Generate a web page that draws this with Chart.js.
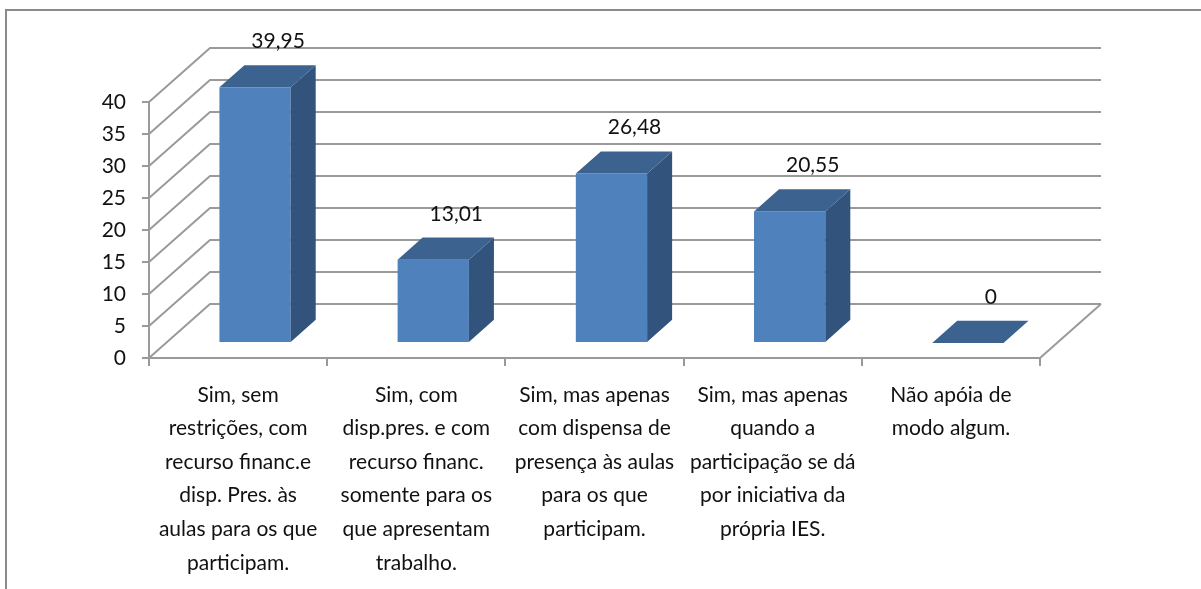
<!DOCTYPE html>
<html>
<head>
<meta charset="utf-8">
<script src="https://cdn.jsdelivr.net/npm/chart.js@4/dist/chart.umd.min.js"></script>
<style>
  html, body { margin: 0; padding: 0; background: #fff; }
  #wrap { width: 1201px; height: 589px; }
</style>
</head>
<body>
<div id="wrap"><canvas id="chart" width="1201" height="589"></canvas></div>
<script>
// categories, one array of lines each (same wrapping as the original)
const categories = [
  ["Sim, sem", "restrições, com", "recurso financ.e", "disp. Pres. às", "aulas para os que", "participam."],
  ["Sim, com", "disp.pres. e com", "recurso financ.", "somente para os", "que apresentam", "trabalho."],
  ["Sim, mas apenas", "com dispensa de", "presença às aulas", "para os que", "participam."],
  ["Sim, mas apenas", "quando a", "participação se dá", "por iniciativa da", "própria IES."],
  ["Não apóia de", "modo algum."]
];
const values = [39.95, 13.01, 26.48, 20.55, 0];
const yTicks = [0, 5, 10, 15, 20, 25, 30, 35, 40];

// 3D look: depth of the floor and where the bars sit in it
const DEPTH_X = 61, DEPTH_Y = -54;
const BAR_FRONT = 0.278, BAR_DEPTH = 0.41;
const GRID = "#9a9a9a";
const FONT = "Lato, 'Open Sans', sans-serif";

function fmt(v) {
  return Number.isInteger(v) ? String(v) : v.toFixed(2).replace(".", ",");
}

const frame3d = {
  id: "frame3d",
  beforeDraw(chart) {
    const ctx = chart.ctx;
    ctx.save();
    ctx.strokeStyle = "#8a8a8a";
    ctx.lineWidth = 2;
    ctx.beginPath();
    ctx.moveTo(6, 589);
    ctx.lineTo(6, 10);
    ctx.lineTo(1201, 10);
    ctx.stroke();
    ctx.restore();
  },
  beforeDatasetsDraw(chart) {
    const { ctx, chartArea: a, scales: { y } } = chart;
    ctx.save();
    ctx.strokeStyle = GRID;
    ctx.lineWidth = 2;
    yTicks.forEach(v => {
      const yf = y.getPixelForValue(v);
      ctx.beginPath();
      ctx.moveTo(a.left, yf);
      ctx.lineTo(a.left + DEPTH_X, yf + DEPTH_Y);
      ctx.lineTo(a.right + DEPTH_X, yf + DEPTH_Y);
      ctx.stroke();
    });
    // right edge of the floor
    ctx.beginPath();
    ctx.moveTo(a.right, a.bottom);
    ctx.lineTo(a.right + DEPTH_X, a.bottom + DEPTH_Y);
    ctx.stroke();
    ctx.restore();
  },
  afterDatasetsDraw(chart) {
    const ctx = chart.ctx;
    const meta = chart.getDatasetMeta(0);
    const fx = DEPTH_X * BAR_FRONT, fy = DEPTH_Y * BAR_FRONT;
    const dx = DEPTH_X * BAR_DEPTH, dy = DEPTH_Y * BAR_DEPTH;
    ctx.save();
    meta.data.forEach((bar, i) => {
      const w = bar.width;
      const x0 = bar.x - w / 2 + fx, x1 = bar.x + w / 2 + fx;
      const top = bar.y + fy, bottom = bar.base + fy;
      if (bottom - top > 0.5) {
        ctx.fillStyle = "#4f81bd";
        ctx.fillRect(x0, top, x1 - x0, bottom - top);
        ctx.fillStyle = "#32537c";
        ctx.beginPath();
        ctx.moveTo(x1, top);
        ctx.lineTo(x1 + dx, top + dy);
        ctx.lineTo(x1 + dx, bottom + dy);
        ctx.lineTo(x1, bottom);
        ctx.closePath();
        ctx.fill();
      }
      ctx.fillStyle = "#3c628f";
      ctx.beginPath();
      ctx.moveTo(x0, top);
      ctx.lineTo(x1, top);
      ctx.lineTo(x1 + dx, top + dy);
      ctx.lineTo(x0 + dx, top + dy);
      ctx.closePath();
      ctx.fill();

      ctx.fillStyle = "#111";
      ctx.font = "21px " + FONT;
      ctx.textAlign = "center";
      ctx.textBaseline = "middle";
      ctx.fillText(fmt(values[i]), bar.x + 40, bar.y - 61);
    });
    ctx.restore();
  }
};

new Chart(document.getElementById("chart"), {
  type: "bar",
  data: {
    labels: categories,
    datasets: [{
      data: values,
      backgroundColor: "rgba(0,0,0,0)",
      borderWidth: 0,
      categoryPercentage: 1,
      barPercentage: 0.4
    }]
  },
  options: {
    responsive: false,
    animation: false,
    devicePixelRatio: 1,
    layout: { padding: { top: 102, right: 161, left: 0, bottom: 0 } },
    plugins: { legend: { display: false }, tooltip: { enabled: false } },
    scales: {
      x: {
        afterFit(s) { s.height = 231; },
        grid: { offset: true, drawOnChartArea: false, tickLength: 8, color: GRID, lineWidth: 2 },
        border: { color: GRID, width: 2 },
        ticks: {
          maxRotation: 0, autoSkip: false, padding: 12,
          color: "#111",
          font: { family: FONT, size: 21, lineHeight: 1.6 }
        }
      },
      y: {
        min: 0, max: 40,
        afterFit(s) { s.width = 149; },
        afterBuildTicks(s) { s.ticks = yTicks.map(v => ({ value: v })); },
        grid: { drawOnChartArea: false, tickLength: 7, color: GRID, lineWidth: 2 },
        border: { color: GRID, width: 2 },
        ticks: {
          padding: 16, color: "#111",
          font: { family: FONT, size: 21 }
        }
      }
    }
  },
  plugins: [frame3d]
});
</script>
</body>
</html>
